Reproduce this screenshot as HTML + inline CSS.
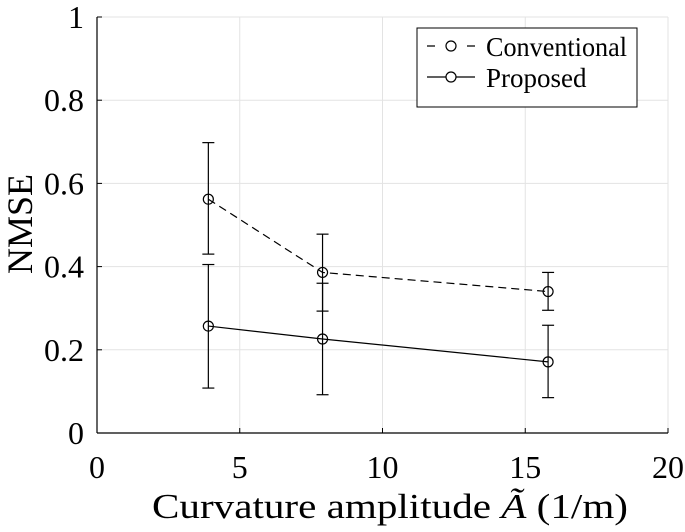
<!DOCTYPE html>
<html><head><meta charset="utf-8"><style>
html,body{margin:0;padding:0;background:#fff;}
svg text{font-family:"Liberation Serif",serif;fill:#000;}
</style></head><body>
<svg id="chart" width="685" height="527" xmlns="http://www.w3.org/2000/svg"></svg>
<script>
const xValues = [3.9, 7.9, 15.8];
const convMean = [0.562, 0.386, 0.340];
const convLow = [0.430, 0.293, 0.295];
const convHigh = [0.698, 0.478, 0.386];
const propMean = [0.257, 0.226, 0.171];
const propLow = [0.108, 0.092, 0.085];
const propHigh = [0.405, 0.360, 0.259];
const xTicks = [0, 5, 10, 15, 20];
const yTicks = [0, 0.2, 0.4, 0.6, 0.8, 1];
const yTickLabels = ["0", "0.2", "0.4", "0.6", "0.8", "1"];

const L = 97, R = 668, T = 17, B = 433;
const sx = v => L + (v - 0) / 20 * (R - L);
const sy = v => B - v * (B - T);
const NS = "http://www.w3.org/2000/svg";
const svg = document.getElementById("chart");
function mk(tag, attrs, parent) {
  const e = document.createElementNS(NS, tag);
  for (const k in attrs) e.setAttribute(k, attrs[k]);
  (parent || svg).appendChild(e);
  return e;
}
const grid = mk("g", {});


xTicks.forEach(t => { if (t > 0) mk("line", {x1: sx(t), x2: sx(t), y1: T, y2: B, stroke: "#e3e3e3", "stroke-width": 1}, grid); });
yTicks.forEach(t => { if (t > 0) mk("line", {x1: L, x2: R, y1: sy(t), y2: sy(t), stroke: "#e3e3e3", "stroke-width": 1}, grid); });
const axes = mk("g", {});


mk("line", {x1: L, x2: L, y1: T, y2: B, stroke: "#000", "stroke-width": 1.2}, axes);
mk("line", {x1: L, x2: R, y1: B, y2: B, stroke: "#000", "stroke-width": 1.2}, axes);
xTicks.forEach(t => {
  mk("line", {x1: sx(t), x2: sx(t), y1: B, y2: B - 5, stroke: "#000"}, axes);
  const tx = mk("text", {x: sx(t), y: 478, "text-anchor": "middle", "font-size": 32}, axes);
  tx.textContent = t;
  
  
});
yTicks.forEach((t, i) => {
  mk("line", {x1: L, x2: L + 5, y1: sy(t), y2: sy(t), stroke: "#000"}, axes);
  const tx = mk("text", {x: 84, y: sy(t) + 11, "text-anchor": "end", "font-size": 32}, axes);
  tx.textContent = yTickLabels[i];
  
  
});
const xt = mk("text", {x: 390, y: 518, "text-anchor": "middle", "font-size": 35, textLength: 476, lengthAdjust: "spacingAndGlyphs"});
xt.innerHTML = 'Curvature amplitude <tspan font-style="italic">Ã</tspan> (1/m)';


const yt = mk("text", {x: 0, y: 0, "text-anchor": "middle", "font-size": 36, transform: "translate(32,224) rotate(-90)"});
yt.textContent = "NMSE";



function series(name, mean, lo, hi, dash) {
  const g = mk("g", {});
  
  
  const pts = xValues.map((x, i) => sx(x) + "," + sy(mean[i])).join(" ");
  const attrs = {points: pts, fill: "none", stroke: "#000", "stroke-width": 1.2};
  if (dash) attrs["stroke-dasharray"] = "8,5";
  mk("polyline", attrs, g);
  xValues.forEach((x, i) => {
    const cx = sx(x);
    mk("line", {x1: cx, x2: cx, y1: sy(lo[i]), y2: sy(hi[i]), stroke: "#000", "stroke-width": 1.2}, g);
    mk("line", {x1: cx - 6, x2: cx + 6, y1: sy(lo[i]), y2: sy(lo[i]), stroke: "#000", "stroke-width": 1.2}, g);
    mk("line", {x1: cx - 6, x2: cx + 6, y1: sy(hi[i]), y2: sy(hi[i]), stroke: "#000", "stroke-width": 1.2}, g);
    const c = mk("circle", {cx: cx, cy: sy(mean[i]), r: 5, fill: "none", stroke: "#000", "stroke-width": 1.2}, g);
    
    
  });
}
series("conventional-series", convMean, convLow, convHigh, true);
series("proposed-series", propMean, propLow, propHigh, false);

const lg = mk("g", {});


mk("rect", {x: 417, y: 28, width: 220, height: 79, fill: "#fff", stroke: "#000", "stroke-width": 1}, lg);
mk("line", {x1: 427, x2: 475, y1: 46, y2: 46, stroke: "#000", "stroke-width": 1.2, "stroke-dasharray": "8,12"}, lg);
mk("circle", {cx: 451, cy: 46, r: 5, fill: "#fff", stroke: "#000", "stroke-width": 1.2}, lg);
mk("line", {x1: 427, x2: 475, y1: 77, y2: 77, stroke: "#000", "stroke-width": 1.2}, lg);
mk("circle", {cx: 451, cy: 77, r: 5, fill: "#fff", stroke: "#000", "stroke-width": 1.2}, lg);
const l1 = mk("text", {x: 486, y: 56, "font-size": 27, textLength: 141, lengthAdjust: "spacingAndGlyphs"}, lg);
l1.textContent = "Conventional";


const l2 = mk("text", {x: 486, y: 87, "font-size": 27}, lg);
l2.textContent = "Proposed";


</script>
</body></html>
